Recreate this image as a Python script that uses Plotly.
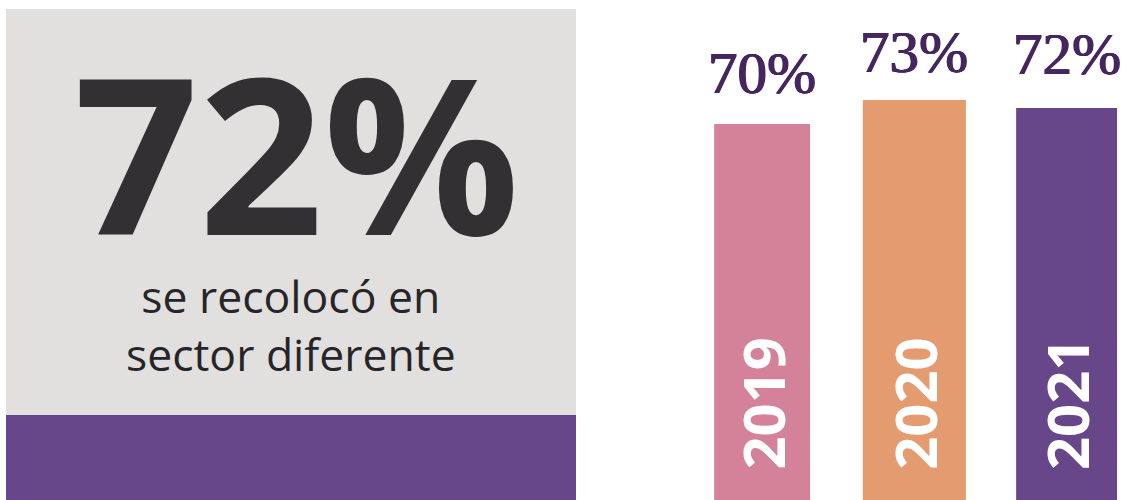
import plotly.graph_objects as go

# ---- data ----
years = ["2019", "2020", "2021"]
values = [70, 73, 72]
value_labels = ["70%", "73%", "72%"]
headline_value = "72%"
headline_text = "se recolocó en<br>sector diferente"

# ---- styles ----
bar_colors = ["#d4829a", "#e49b6f", "#674689"]
bar_widths = [0.63, 0.677, 0.663]
label_shift = [16, 13, 19]
label_color = "#45265f"
W, H = 1126, 500

fig = go.Figure()
fig.add_trace(go.Bar(
    x=years, y=values, width=bar_widths,
    marker=dict(color=bar_colors, line=dict(width=0)),
    hoverinfo="skip", showlegend=False,
))

annotations = []
for i, (yr, v, lab, sh) in enumerate(zip(years, values, value_labels, label_shift)):
    annotations.append(dict(
        x=i, y=v, xref="x", yref="y", text=lab, showarrow=False,
        yanchor="bottom", xanchor="center", yshift=sh,
        font=dict(family="Liberation Serif", size=59, color=label_color,
                  shadow=f"0.7px 0 0 {label_color}, -0.7px 0 0 {label_color}, 0 0.4px 0 {label_color}"),
    ))
    annotations.append(dict(
        x=i, y=23, xref="x", yref="y", text="<b>" + yr + "</b>", showarrow=False,
        textangle=-90, yanchor="bottom", xanchor="center", yshift=28,
        font=dict(family="Open Sans", size=58, color="#ffffff"),
    ))

annotations.append(dict(
    x=297 / W, y=0.70, xref="paper", yref="paper", text="<b>" + headline_value + "</b>",
    showarrow=False, xanchor="center", yanchor="middle",
    font=dict(family="Open Sans", size=218, color="#333034"),
))
annotations.append(dict(
    x=291 / W, y=0.351, xref="paper", yref="paper", text=headline_text,
    showarrow=False, xanchor="center", yanchor="middle",
    font=dict(family="Open Sans", size=44.5, color="#272527"),
))

shapes = [
    dict(type="rect", xref="paper", yref="paper", x0=6 / W, x1=576 / W,
         y0=(H - 415) / H, y1=(H - 9) / H, fillcolor="#e1e0df", line=dict(width=0), layer="below"),
    dict(type="rect", xref="paper", yref="paper", x0=6 / W, x1=576 / W,
         y0=0, y1=(H - 415) / H, fillcolor="#674689", line=dict(width=0), layer="below"),
]

fig.update_layout(
    width=W, height=H,
    margin=dict(l=0, r=0, t=0, b=0),
    paper_bgcolor="white", plot_bgcolor="white",
    xaxis=dict(type="category", domain=[686 / W, 1], range=[-0.5, -0.5 + 440 / 152.25],
               showgrid=False, zeroline=False, showticklabels=False, showline=False, fixedrange=True),
    yaxis=dict(domain=[0, 1], range=[23, 85.5], showgrid=False, zeroline=False,
               showticklabels=False, showline=False, fixedrange=True),
    annotations=annotations, shapes=shapes,
)

fig.write_html("out.html", config={"displayModeBar": False},
               post_script="document.body.style.margin='0';")
